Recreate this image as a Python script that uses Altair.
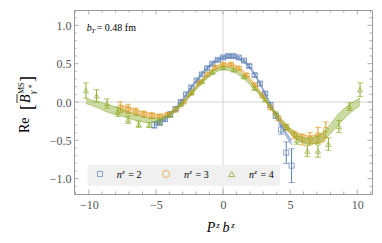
import altair as alt
import pandas as pd

# ---------------- data ----------------
x_n2 = [-5.11, -4.71, -4.32, -3.93, -3.53, -3.14, -2.75, -2.36, -1.96, -1.57, -1.18, -0.79, -0.39, 0.0,
        0.39, 0.79, 1.18, 1.57, 1.96, 2.36, 2.75, 3.14, 3.53, 3.93, 4.32, 4.71, 5.11]
y_n2 = [-0.30, -0.27, -0.22, -0.16, -0.09, 0.00, 0.10, 0.19, 0.28, 0.36, 0.44, 0.50, 0.55, 0.58,
        0.60, 0.60, 0.58, 0.54, 0.47, 0.35, 0.24, 0.11, -0.04, -0.18, -0.36, -0.66, -0.83]
e_n2 = [0.04, 0.03, 0.03, 0.03, 0.02, 0.02, 0.02, 0.02, 0.02, 0.02, 0.02, 0.02, 0.02, 0.02,
        0.02, 0.02, 0.02, 0.02, 0.02, 0.02, 0.02, 0.02, 0.03, 0.03, 0.06, 0.14, 0.22]
band_n2 = [-0.28, -0.26, -0.22, -0.16, -0.09, 0.00, 0.09, 0.19, 0.28, 0.37, 0.44, 0.50, 0.55, 0.58,
           0.59, 0.59, 0.57, 0.53, 0.46, 0.36, 0.24, 0.11, -0.03, -0.17, -0.30, -0.42, -0.53]
bw_n2 = [0.03, 0.02, 0.02, 0.02, 0.015, 0.015, 0.015, 0.015, 0.015, 0.015, 0.015, 0.015, 0.015, 0.015,
         0.015, 0.015, 0.015, 0.015, 0.015, 0.015, 0.015, 0.015, 0.015, 0.02, 0.02, 0.025, 0.03]

x_n3 = [-7.66, -7.07, -6.48, -5.89, -5.30, -4.71, -4.12, -3.53, -2.94, -2.36, -1.77, -1.18, -0.59, 0.0,
        0.59, 1.18, 1.77, 2.36, 2.94, 3.53, 4.12, 4.71, 5.30, 5.89, 6.48, 7.07, 7.66]
y_n3 = [-0.07, -0.09, -0.13, -0.16, -0.18, -0.19, -0.17, -0.10, 0.00, 0.12, 0.25, 0.36, 0.45, 0.49,
        0.49, 0.44, 0.35, 0.22, 0.08, -0.07, -0.21, -0.33, -0.43, -0.49, -0.48, -0.43, -0.36]
e_n3 = [0.07, 0.06, 0.05, 0.04, 0.04, 0.03, 0.03, 0.03, 0.02, 0.02, 0.02, 0.02, 0.02, 0.02,
        0.02, 0.02, 0.02, 0.02, 0.02, 0.03, 0.03, 0.04, 0.05, 0.07, 0.08, 0.10, 0.10]
band_n3 = [-0.08, -0.10, -0.13, -0.16, -0.18, -0.18, -0.16, -0.10, 0.00, 0.12, 0.24, 0.35, 0.44, 0.48,
           0.48, 0.43, 0.34, 0.22, 0.08, -0.07, -0.21, -0.33, -0.42, -0.47, -0.49, -0.48, -0.45]
bw_n3 = [0.04, 0.04, 0.03, 0.03, 0.03, 0.02, 0.02, 0.02, 0.02, 0.02, 0.02, 0.02, 0.02, 0.02,
         0.02, 0.02, 0.02, 0.02, 0.02, 0.02, 0.02, 0.03, 0.04, 0.05, 0.05, 0.06, 0.06]

x_n4 = [-10.21, -9.42, -8.64, -7.85, -7.07, -6.28, -5.50, -4.71, -3.93, -3.14, -2.36, -1.57, -0.79, 0.0,
        0.79, 1.57, 2.36, 3.14, 3.93, 4.71, 5.50, 6.28, 7.07, 7.85, 8.64, 9.42, 10.21]
y_n4 = [0.15, 0.08, -0.02, -0.13, -0.23, -0.29, -0.30, -0.26, -0.17, -0.03, 0.12, 0.27, 0.39, 0.45,
        0.42, 0.33, 0.18, 0.03, -0.15, -0.33, -0.50, -0.64, -0.64, -0.55, -0.32, -0.06, 0.16]
e_n4 = [0.10, 0.08, 0.06, 0.06, 0.05, 0.04, 0.03, 0.03, 0.02, 0.02, 0.02, 0.02, 0.02, 0.02,
        0.02, 0.02, 0.02, 0.02, 0.02, 0.03, 0.05, 0.07, 0.08, 0.08, 0.08, 0.05, 0.09]
band_n4 = [0.01, -0.03, -0.08, -0.12, -0.17, -0.21, -0.24, -0.23, -0.16, -0.04, 0.11, 0.26, 0.38, 0.44,
           0.41, 0.32, 0.18, 0.03, -0.15, -0.32, -0.45, -0.51, -0.49, -0.38, -0.22, -0.09, 0.00]
bw_n4 = [0.03, 0.04, 0.05, 0.05, 0.04, 0.04, 0.03, 0.02, 0.02, 0.02, 0.02, 0.02, 0.02, 0.02,
         0.02, 0.02, 0.02, 0.02, 0.02, 0.03, 0.03, 0.04, 0.05, 0.06, 0.07, 0.06, 0.05]

series_names = ["n2", "n3", "n4"]
colors = ["#5E81B5", "#E19C24", "#8FB032"]
shapes = ["square", "circle", "triangle-up"]

x_major = [-10, -5, 0, 5, 10]
x_minor = [-11, -9, -8, -7, -6, -4, -3, -2, -1, 1, 2, 3, 4, 6, 7, 8, 9, 11]
y_major = [-1.0, -0.5, 0.0, 0.5, 1.0]
y_minor = [-1.1, -0.9, -0.8, -0.7, -0.6, -0.4, -0.3, -0.2, -0.1, 0.1, 0.2, 0.3, 0.4, 0.6, 0.7, 0.8, 0.9, 1.1]

W, H = 298, 184
SERIF = "Liberation Serif"

rows, brows = [], []
for name, xs, ys, es, bc, bw in [("n2", x_n2, y_n2, e_n2, band_n2, bw_n2),
                                 ("n3", x_n3, y_n3, e_n3, band_n3, bw_n3),
                                 ("n4", x_n4, y_n4, e_n4, band_n4, bw_n4)]:
    for xv, yv, ev, c, w in zip(xs, ys, es, bc, bw):
        rows.append({"s": name, "x": xv, "y": yv, "lo": yv - ev, "hi": yv + ev})
        brows.append({"s": name, "x": xv, "lo": c - w, "hi": c + w})
pts = pd.DataFrame(rows)
bands = pd.DataFrame(brows)

xs = alt.Scale(domain=[-11.1, 11.1], nice=False, zero=False)
ys = alt.Scale(domain=[-1.2, 1.2], nice=False, zero=False)
cscale = alt.Scale(domain=series_names, range=colors)

X = alt.X("x:Q", scale=xs, axis=alt.Axis(values=x_major, format="d", title=None))
Y = alt.Y("y:Q", scale=ys, axis=alt.Axis(values=y_major, format=".1f", title=None))

# reference lines
zero_v = alt.Chart(pd.DataFrame({"x": [0]})).mark_rule(color="#d4d4d4", strokeWidth=1).encode(x=alt.X("x:Q", scale=xs))
zero_h = alt.Chart(pd.DataFrame({"y": [0]})).mark_rule(color="#d4d4d4", strokeWidth=1).encode(y=alt.Y("y:Q", scale=ys))

# frame ticks
tcol = "#9a9a9a"
def xticks(vals, ln):
    d = pd.DataFrame({"x": vals})
    b = alt.Chart(d).mark_rule(color=tcol, strokeWidth=0.8).encode(x=alt.X("x:Q", scale=xs), y=alt.value(H), y2=alt.value(H - ln))
    t = alt.Chart(d).mark_rule(color=tcol, strokeWidth=0.8).encode(x=alt.X("x:Q", scale=xs), y=alt.value(0), y2=alt.value(ln))
    return [b, t]
def yticks(vals, ln):
    d = pd.DataFrame({"y": vals})
    l = alt.Chart(d).mark_rule(color=tcol, strokeWidth=0.8).encode(y=alt.Y("y:Q", scale=ys), x=alt.value(0), x2=alt.value(ln))
    r = alt.Chart(d).mark_rule(color=tcol, strokeWidth=0.8).encode(y=alt.Y("y:Q", scale=ys), x=alt.value(W), x2=alt.value(W - ln))
    return [l, r]

ticks = xticks(x_major, 4.5) + xticks(x_minor, 2.5) + yticks(y_major, 4.5) + yticks(y_minor, 2.5)

base = alt.Chart(pts)
color = alt.Color("s:N", scale=cscale, legend=None)
errs = base.mark_rule(strokeWidth=1).encode(x=X, y=alt.Y("lo:Q", scale=ys, axis=alt.Axis(values=y_major, format=".1f", title=None)), y2="hi:Q", color=color)
cap_lo = base.mark_tick(orient="horizontal", size=6, thickness=1).encode(x=alt.X("x:Q", scale=xs), y=alt.Y("lo:Q", scale=ys), color=color)
cap_hi = base.mark_tick(orient="horizontal", size=6, thickness=1).encode(x=alt.X("x:Q", scale=xs), y=alt.Y("hi:Q", scale=ys), color=color)
marks = base.mark_point(filled=False, strokeWidth=1, size=26).encode(
    x=alt.X("x:Q", scale=xs), y=alt.Y("y:Q", scale=ys), color=color,
    shape=alt.Shape("s:N", scale=alt.Scale(domain=series_names, range=shapes), legend=None))

band_layers = []
for name, col in zip(series_names, colors):
    bd = bands[bands.s == name]
    band_layers.append(alt.Chart(bd).mark_area(color=col, opacity=0.45, interpolate="monotone").encode(
        x=alt.X("x:Q", scale=xs), y=alt.Y("lo:Q", scale=ys), y2="hi:Q"))
    band_layers.append(alt.Chart(bd).mark_line(color=col, strokeWidth=0.7, opacity=0.8, interpolate="monotone").encode(
        x=alt.X("x:Q", scale=xs), y=alt.Y("lo:Q", scale=ys)))
    band_layers.append(alt.Chart(bd).mark_line(color=col, strokeWidth=0.7, opacity=0.8, interpolate="monotone").encode(
        x=alt.X("x:Q", scale=xs), y=alt.Y("hi:Q", scale=ys)))

one = pd.DataFrame({"a": [0]})
def txt(s, x, y, size, style="normal", angle=0, color="black"):
    kw = dict(text=s, fontSize=size, fontStyle=style, align="left", baseline="alphabetic", font=SERIF, color=color)
    if angle:
        kw["angle"] = angle
    return alt.Chart(one).mark_text(**kw).encode(x=alt.value(x), y=alt.value(y))

# legend box
leg_box = alt.Chart(one).mark_rect(color="#f0f0f0").encode(x=alt.value(13.7), x2=alt.value(206), y=alt.value(155), y2=alt.value(175.7))
leg_sym = [
    alt.Chart(one).mark_point(shape="square", filled=False, color=colors[0], size=26, strokeWidth=1).encode(x=alt.value(26), y=alt.value(164)),
    alt.Chart(one).mark_point(shape="circle", filled=False, color=colors[1], size=50, strokeWidth=1, opacity=0.75).encode(x=alt.value(92), y=alt.value(164)),
    alt.Chart(one).mark_point(shape="triangle-up", filled=False, color=colors[2], size=36, strokeWidth=1, opacity=0.85).encode(x=alt.value(157.7), y=alt.value(164)),
]
leg_txt = []
for lx, num in [(42.7, "2"), (110, "3"), (175, "4")]:
    leg_txt += [txt("n", lx, 168.3, 10, "italic"), txt("z", lx + 5.2, 164.3, 7, "italic"), txt("= " + num, lx + 11.6, 168.3, 10)]

annot = [txt("b", 12.7, 21, 10, "italic"), txt("T", 17.2, 23, 7, "italic"), txt("= 0.48 fm", 22.7, 21, 10)]

xtitle = [txt("P", 132.7, 221.7, 14, "italic"), txt("z", 142.3, 217.5, 9, "italic"),
          txt("b", 148.5, 221.7, 14, "italic"), txt("z", 157.2, 217.5, 9, "italic")]

ytitle = [
    txt("Re", -45, 123, 14, angle=270),
    txt("[", -41, 100, 18, angle=270),
    txt("B", -44, 93, 14, "italic", angle=270),
    alt.Chart(one).mark_rule(color="black", strokeWidth=0.8).encode(x=alt.value(-57), y=alt.value(84), y2=alt.value(93)),
    txt("MS", -50.5, 84, 8, angle=270),
    txt("γ", -39, 84, 9, "italic", angle=270),
    txt("4", -42.5, 78, 6, angle=270),
    txt("]", -41, 72, 18, angle=270),
]

layers = [zero_v, zero_h] + ticks + [leg_box] + [errs, cap_lo, cap_hi, marks] + band_layers + leg_sym + leg_txt + annot + xtitle + ytitle

chart = alt.layer(*layers).properties(
    width=W, height=H,
    padding={"left": 66, "top": 2, "right": 2, "bottom": 41},
    autosize=alt.AutoSizeParams(type="none"),
).configure_view(stroke="#9a9a9a", strokeWidth=1).configure_axis(
    labelFont=SERIF, labelFontSize=12, labelColor="#555555", ticks=False, domain=False, grid=False,
).configure_axisX(labelPadding=5).configure_axisY(labelPadding=3)

chart.save("out.html", embed_options={"renderer": "svg", "actions": False})
